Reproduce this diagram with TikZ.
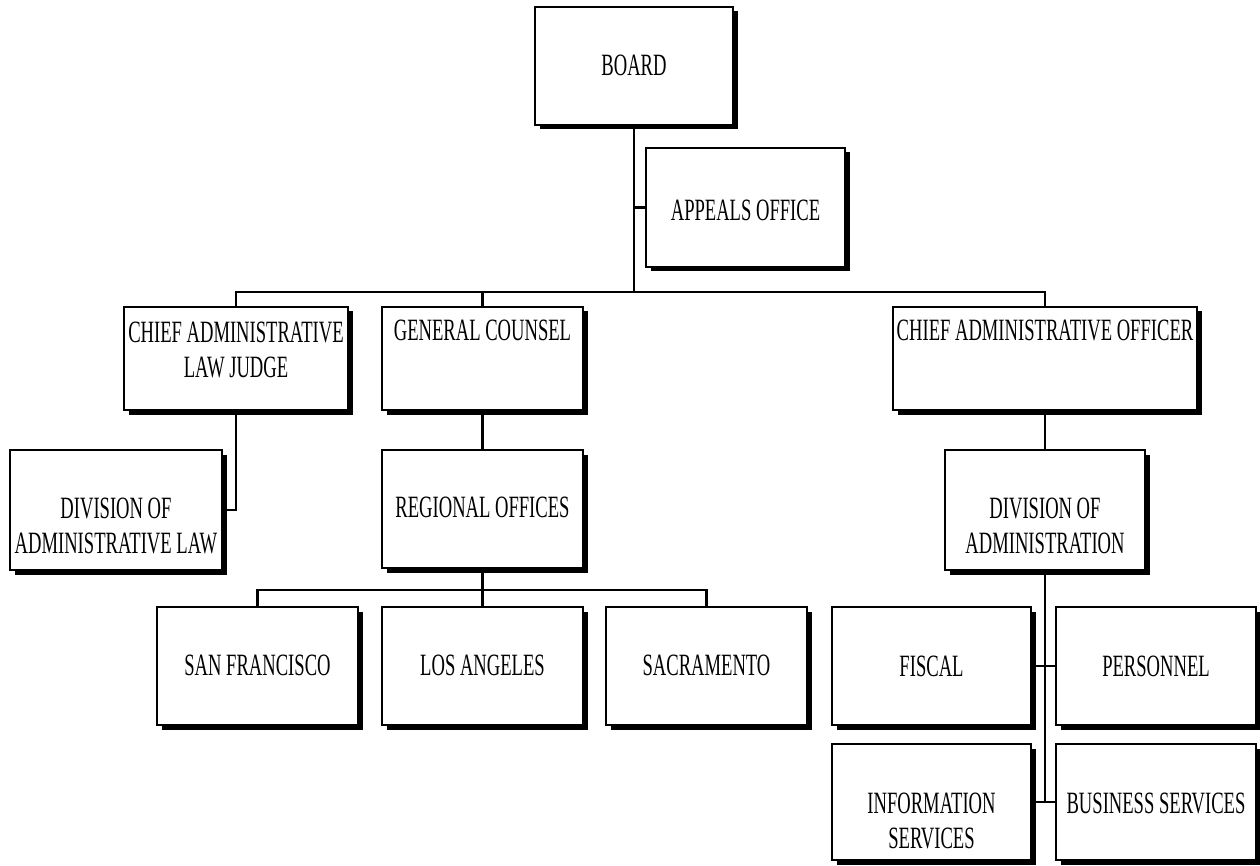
\documentclass[tikz,border=0pt]{standalone}
\usepackage{fontspec}
\setmainfont{Liberation Serif}[FakeStretch=0.6]
\usetikzlibrary{shadows}
\tikzset{
  orgbox/.style={draw, line width=2.2pt, fill=white, inner sep=0pt,
    general shadow={fill=black, shadow xshift=4.5pt, shadow yshift=-4.5pt}},
  orgtext/.style={font=\fontsize{31}{35}\selectfont, align=center, anchor=north, inner sep=0pt},
  link/.style={line width=2.2pt}
}
\newcommand\orgbox[7]{%
  \node[orgbox, minimum width={#4-#2}, minimum height={#5-#3}] (#1) at ({(#2+#4)/2},{(#3+#5)/2}) {};
  \node[orgtext] (#1-t) at ({(#2+#4)/2},{#6-10}) {#7};}
\begin{document}
\begin{tikzpicture}[x=1pt,y=-1pt]
\useasboundingbox (0,0) rectangle (1260,866);
% boxes
\orgbox{board}{535}{7}{733}{125}{65}{BOARD}
\orgbox{appeals}{646}{148}{845}{267}{210}{APPEALS OFFICE}
\orgbox{calj}{124}{307}{348}{410}{332}{CHIEF ADMINISTRATIVE\\LAW JUDGE}
\orgbox{gc}{382}{307}{583}{410}{330}{GENERAL COUNSEL}
\orgbox{cao}{893}{307}{1197}{410}{330}{CHIEF ADMINISTRATIVE OFFICER}
\orgbox{dal}{10}{450}{222}{570}{508}{DIVISION OF\\ADMINISTRATIVE LAW}
\orgbox{ro}{382}{450}{583}{568}{507}{REGIONAL OFFICES}
\orgbox{doa}{945}{450}{1145}{570}{508}{DIVISION OF\\ADMINISTRATION}
\orgbox{sf}{157}{607}{358}{725}{665}{SAN FRANCISCO}
\orgbox{la}{382}{607}{583}{725}{665}{LOS ANGELES}
\orgbox{sac}{606}{607}{807}{725}{665}{SACRAMENTO}
\orgbox{fiscal}{832}{607}{1031}{725}{666}{FISCAL}
\orgbox{pers}{1056}{607}{1256}{725}{666}{PERSONNEL}
\orgbox{info}{832}{744}{1031}{860}{803}{INFORMATION\\SERVICES}
\orgbox{bus}{1056}{744}{1256}{860}{803}{BUSINESS SERVICES}
% junctions
\coordinate (busA) at (634,292);
\coordinate (busB) at (482,590);
% connectors
\draw[link] (board.south) -- (busA);
\draw[link] (appeals.west -| busA) -- (appeals.west);
\draw[link] (calj.north) -- (calj.north |- busA) -- (cao.north |- busA) -- (cao.north);
\draw[link] (gc.north) -- (gc.north |- busA);
\draw[link] (calj.south) |- (dal.east);
\draw[link] (gc.south) -- (ro.north);
\draw[link] (ro.south) -- (la.north);
\draw[link] (sf.north) -- (sf.north |- busB) -- (sac.north |- busB) -- (sac.north);
\draw[link] (cao.south) -- (doa.north);
\draw[link] (doa.south) -- (doa.south |- info.east);
\draw[link] (fiscal.east) -- (pers.west);
\draw[link] (info.east) -- (bus.west);
\end{tikzpicture}
\end{document}
